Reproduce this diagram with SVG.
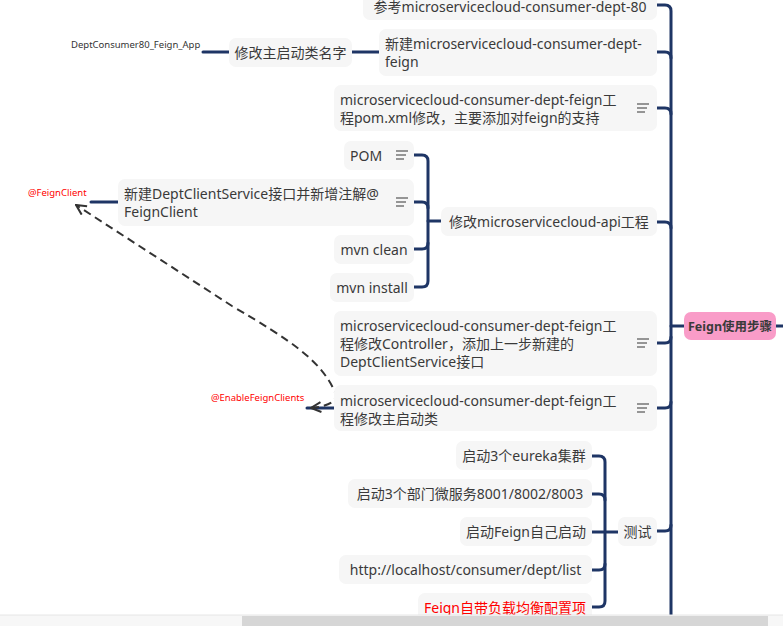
<svg xmlns="http://www.w3.org/2000/svg" width="783" height="626" viewBox="0 0 783 626">
<defs>
<style>
.n{fill:#f6f6f6}
.t{font-family:"Noto Sans","Noto Sans CJK SC",sans-serif;font-size:14px;fill:#3a3a3a}
.m{text-anchor:middle}
.red{fill:#ff0000}
.s{font-family:"Noto Sans","Noto Sans CJK SC",sans-serif;font-size:9.5px}
.c{fill:none;stroke:#1e3565;stroke-width:3;stroke-linecap:round}
.ic{stroke:#555;stroke-width:1.2}
.rel{fill:none;stroke:#333;stroke-width:2;stroke-dasharray:8 5}
</style>
<marker id="ah" viewBox="0 0 12 12" refX="11" refY="6" markerWidth="12" markerHeight="12" markerUnits="userSpaceOnUse" orient="auto-start-reverse">
<path d="M1 1 L11 6 L1 11" fill="none" stroke="#333" stroke-width="2"/>
</marker>
<g id="icon"><line class="ic" x1="0" y1="-4" x2="12" y2="-4"/><line class="ic" x1="0" y1="0" x2="10" y2="0"/><line class="ic" x1="0" y1="4" x2="8" y2="4"/></g>
</defs>
<rect width="783" height="626" fill="#ffffff"/>

<g id="connectors">
<path class="c" d="M671 626 V11 Q671 5 665 5 H657"/>
<path class="c" d="M657 52 H665 Q671 52 671 58"/>
<path class="c" d="M657 108 H665 Q671 108 671 114"/>
<path class="c" d="M657 222 H665 Q671 222 671 228"/>
<path class="c" d="M657 343 H665 Q671 343 671 337"/>
<path class="c" d="M657 408 H665 Q671 408 671 402"/>
<path class="c" d="M657 531 H665 Q671 531 671 525"/>
<path class="c" d="M684 326 H671"/>
<path class="c" d="M776 326 H783"/>
<path class="c" d="M379 52 H352"/>
<path class="c" d="M229 52 H203"/>
<path class="c" d="M414 155 H422 Q428 155 428 161 V281 Q428 287 422 287 H414"/>
<path class="c" d="M414 202 H422 Q428 202 428 208"/>
<path class="c" d="M414 249 H422 Q428 249 428 243"/>
<path class="c" d="M441 221 H428"/>
<path class="c" d="M118 202 H91"/>
<path class="c" d="M334 408 H307"/>
<path class="c" d="M592 456 H599 Q605 456 605 462 V601 Q605 607 599 607 H592"/>
<path class="c" d="M592 494 H599 Q605 494 605 500"/>
<path class="c" d="M592 532 H618"/>
<path class="c" d="M592 570 H599 Q605 570 605 564"/>
<path class="rel" d="M311 408 Q342 405 334 390 C320 360 290 340 232 306 L76 205" marker-start="url(#ah)" marker-end="url(#ah)"/>
</g>

<g id="root">
<rect x="684" y="312" width="92" height="28" rx="7" fill="#f99cc8"/>
<text class="t m" x="730" y="331" style="font-weight:bold;font-size:12.5px">Feign使用步骤</text>
</g>

<g id="n1">
<rect class="n" x="363" y="-9" width="294" height="29" rx="7"/>
<text class="t m" x="510" y="12">参考microservicecloud-consumer-dept-80</text>
</g>

<g id="n2">
<rect class="n" x="379" y="29" width="278" height="47" rx="7"/>
<text class="t" x="385" y="49">新建microservicecloud-consumer-dept-</text>
<text class="t" x="385" y="67">feign</text>
</g>

<g id="n2a">
<rect class="n" x="229" y="38" width="123" height="29" rx="7"/>
<text class="t m" x="290.5" y="58">修改主启动类名字</text>
</g>

<g id="n2b">
<text class="s" x="71" y="48" fill="#333">DeptConsumer80_Feign_App</text>
</g>

<g id="n3">
<rect class="n" x="334" y="85" width="323" height="46" rx="7"/>
<text class="t" x="340" y="105">microservicecloud-consumer-dept-feign工</text>
<text class="t" x="340" y="123">程pom.xml修改，主要添加对feign的支持</text>
<use href="#icon" x="637" y="108"/>
</g>

<g id="n4">
<rect class="n" x="441" y="207" width="216" height="29" rx="7"/>
<text class="t m" x="549" y="227">修改microservicecloud-api工程</text>
</g>

<g id="n4a">
<rect class="n" x="344" y="141" width="70" height="29" rx="7"/>
<text class="t" x="350" y="161">POM</text>
<use href="#icon" x="396" y="155"/>
</g>

<g id="n4b">
<rect class="n" x="118" y="179" width="296" height="47" rx="7"/>
<text class="t" x="124" y="199">新建DeptClientService接口并新增注解@</text>
<text class="t" x="124" y="217">FeignClient</text>
<use href="#icon" x="396" y="202"/>
</g>

<g id="n4b1">
<text class="s red" x="28" y="196">@FeignClient</text>
</g>

<g id="n4c">
<rect class="n" x="334" y="235" width="80" height="29" rx="7"/>
<text class="t m" x="374" y="255">mvn clean</text>
</g>

<g id="n4d">
<rect class="n" x="330" y="273" width="84" height="29" rx="7"/>
<text class="t m" x="372" y="293">mvn install</text>
</g>

<g id="n5">
<rect class="n" x="334" y="311" width="323" height="65" rx="7"/>
<text class="t" x="340" y="331">microservicecloud-consumer-dept-feign工</text>
<text class="t" x="340" y="349">程修改Controller，添加上一步新建的</text>
<text class="t" x="340" y="367">DeptClientService接口</text>
<use href="#icon" x="637" y="343"/>
</g>

<g id="n6">
<rect class="n" x="334" y="385" width="323" height="46" rx="7"/>
<text class="t" x="340" y="406">microservicecloud-consumer-dept-feign工</text>
<text class="t" x="340" y="424">程修改主启动类</text>
<use href="#icon" x="637" y="408"/>
</g>

<g id="n6a">
<text class="s red" x="211" y="401">@EnableFeignClients</text>
</g>

<g id="n7">
<rect class="n" x="618" y="517" width="39" height="29" rx="7"/>
<text class="t m" x="637.5" y="537">测试</text>
</g>

<g id="n7a">
<rect class="n" x="456" y="441" width="136" height="29" rx="7"/>
<text class="t m" x="524" y="461">启动3个eureka集群</text>
</g>

<g id="n7b">
<rect class="n" x="348" y="479" width="244" height="29" rx="7"/>
<text class="t m" x="470" y="499">启动3个部门微服务8001/8002/8003</text>
</g>

<g id="n7c">
<rect class="n" x="460" y="517" width="132" height="29" rx="7"/>
<text class="t m" x="526" y="537">启动Feign自己启动</text>
</g>

<g id="n7d">
<rect class="n" x="339" y="555" width="253" height="29" rx="7"/>
<text class="t m" x="465.5" y="575">http://localhost/consumer/dept/list</text>
</g>

<g id="n7e">
<rect class="n" x="418" y="593" width="174" height="29" rx="7"/>
<text class="t m red" x="505" y="613">Feign自带负载均衡配置项</text>
</g>

<g id="scrollbar">
<rect x="0" y="615" width="783" height="11" fill="#f7f7f7"/>
<line x1="0" y1="615" x2="783" y2="615" stroke="#e6e6e6" stroke-width="1"/>
<rect x="242" y="616" width="526" height="10" fill="#d6d6d6"/>
</g>
</svg>
